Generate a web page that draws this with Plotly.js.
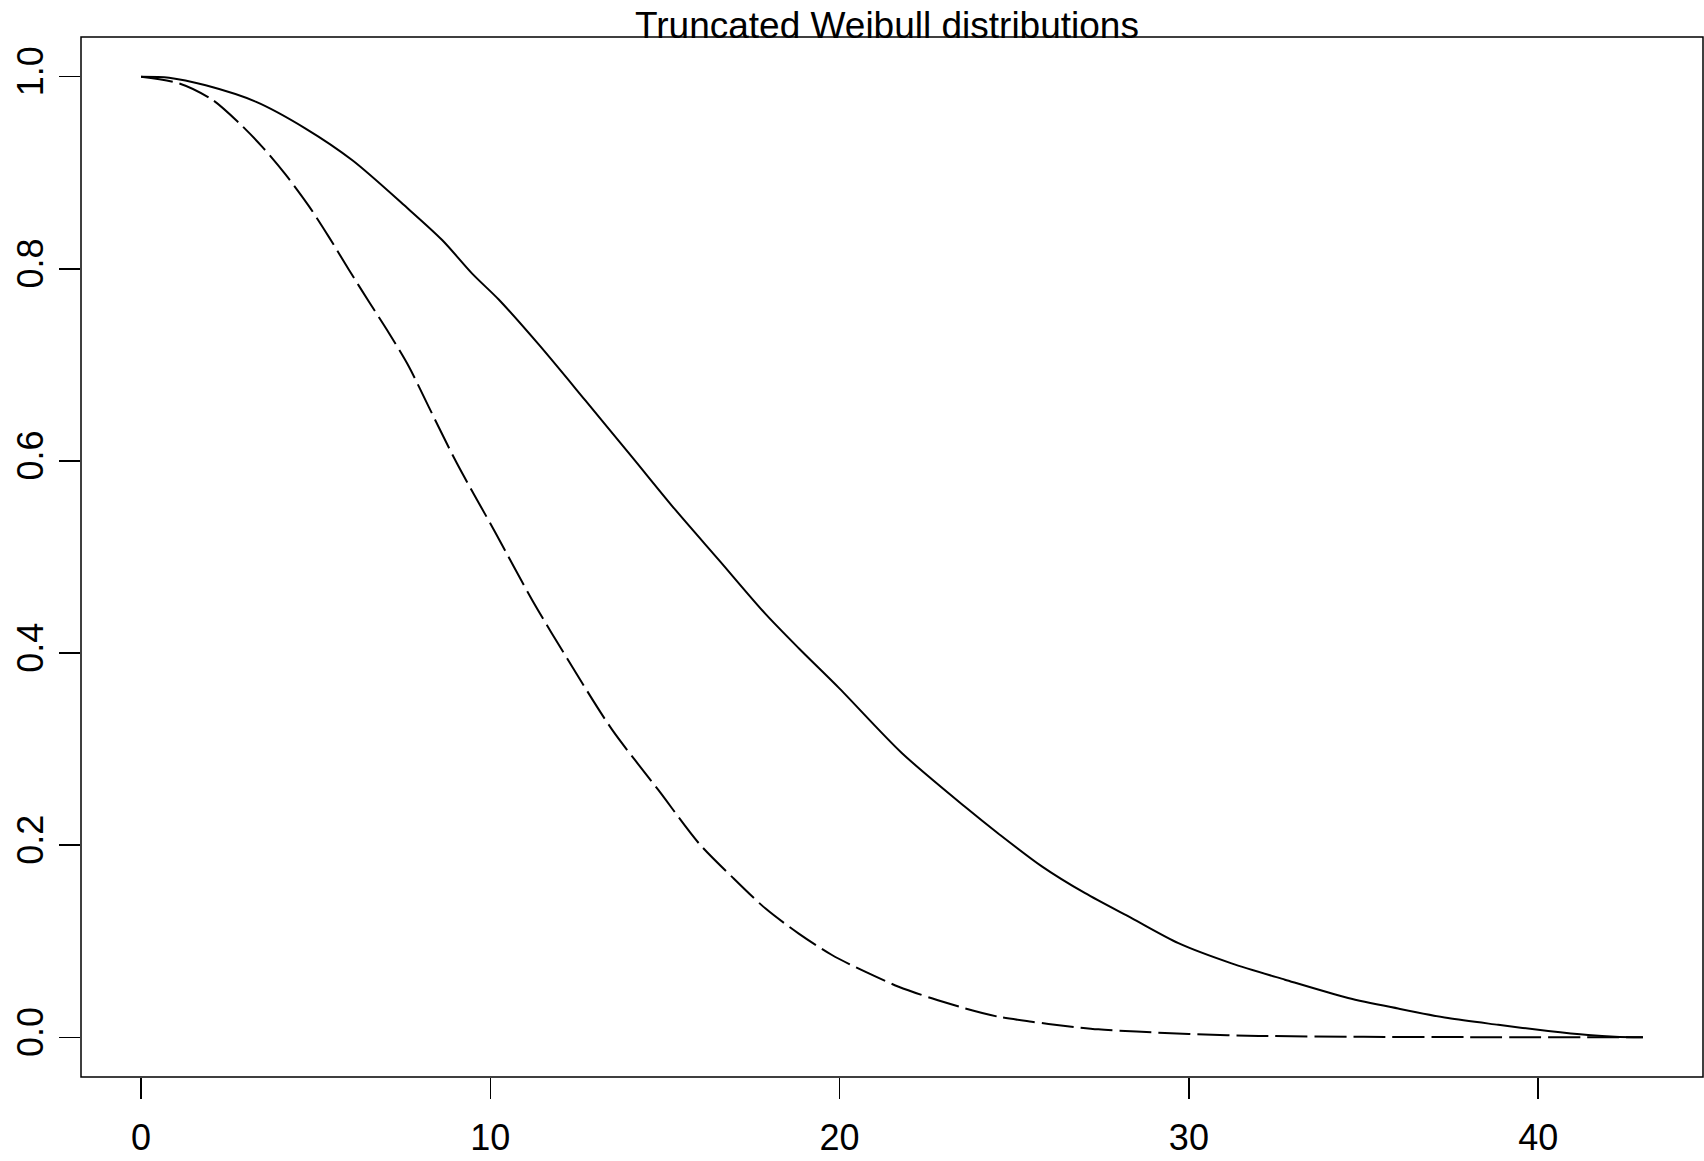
<!DOCTYPE html>
<html>
<head>
<meta charset="utf-8">
<script src="https://cdn.plot.ly/plotly-3.0.1.min.js"></script>
<style>
  html, body { margin: 0; padding: 0; background: #ffffff; }
  #chart { width: 1704px; height: 1161px; }
</style>
</head>
<body>
<div id="chart"></div>
<script>
// Solid curve
var solidX = [0, 0.8, 1.85, 3.28, 4.71, 6.05, 7.57, 8.62, 9.48, 10.24, 11.39, 12.72, 14.06, 15.30, 16.54, 17.87, 18.83, 20.0, 21.78, 23.59, 24.55, 25.79, 27.03, 28.36, 29.70, 31.22, 32.75, 34.56, 35.99, 37.42, 38.86, 40.29, 41.43, 42.2, 43.0];
var solidY = [1.0, 0.999, 0.991, 0.974, 0.946, 0.913, 0.865, 0.830, 0.795, 0.768, 0.721, 0.663, 0.604, 0.549, 0.497, 0.441, 0.405, 0.363, 0.296, 0.240, 0.212, 0.178, 0.150, 0.124, 0.098, 0.077, 0.060, 0.041, 0.030, 0.020, 0.013, 0.0066, 0.0024, 0.0006, 0.0];

// Dashed curve
var dashX = [0, 1.09, 2.04, 2.80, 3.47, 4.14, 4.81, 5.38, 5.95, 6.52, 7.10, 7.67, 8.24, 9.05, 10.15, 11.2, 12.34, 13.49, 14.82, 15.97, 16.92, 17.88, 18.83, 19.78, 20.73, 21.69, 22.64, 23.59, 24.55, 25.50, 26.46, 27.41, 28.5, 30, 32, 35, 38, 43];
var dashY = [1.0, 0.993, 0.976, 0.952, 0.927, 0.898, 0.865, 0.833, 0.799, 0.766, 0.733, 0.698, 0.656, 0.597, 0.525, 0.455, 0.386, 0.320, 0.257, 0.202, 0.167, 0.134, 0.108, 0.0857, 0.0683, 0.0527, 0.0406, 0.0302, 0.0214, 0.0162, 0.0118, 0.0083, 0.006, 0.0035, 0.0015, 0.0005, 0.0002, 0.0];

var xTickVals = [0, 10, 20, 30, 40];
var xTickText = ["0", "10", "20", "30", "40"];
var yTickVals = [0, 0.2, 0.4, 0.6, 0.8, 1.0];
var yTickText = ["0.0", "0.2", "0.4", "0.6", "0.8", "1.0"];
var chartTitle = "Truncated Weibull distributions";

var FONT = "Liberation Sans, Arial, Helvetica, sans-serif";

var traces = [
  {
    x: solidX, y: solidY, type: "scatter", mode: "lines",
    line: { color: "#000000", width: 2, shape: "spline", smoothing: 0.8 },
    hoverinfo: "skip", showlegend: false
  },
  {
    x: dashX, y: dashY, type: "scatter", mode: "lines",
    line: { color: "#000000", width: 2, dash: "32px,7px", shape: "spline", smoothing: 0.8 },
    hoverinfo: "skip", showlegend: false
  }
];

var layout = {
  width: 1704, height: 1161,
  paper_bgcolor: "#ffffff", plot_bgcolor: "#ffffff",
  margin: { l: 81, r: 1, t: 37, b: 84, pad: 0 },
  font: { family: FONT, color: "#000000", size: 36 },
  title: {
    text: chartTitle,
    font: { family: FONT, size: 37, color: "#000000" },
    xref: "container", yref: "container",
    x: 887 / 1704, xanchor: "center",
    y: 1 - 38 / 1161, yanchor: "bottom",
    pad: { t: 0, b: 0, l: 0, r: 0 }
  },
  xaxis: {
    range: [-1.72, 44.72],
    tickmode: "array", tickvals: xTickVals, ticktext: xTickText,
    ticks: "outside", ticklen: 21, tickwidth: 1.5, tickcolor: "#000000",
    showgrid: false, zeroline: false, showline: false,
    tickfont: { family: FONT, size: 36, color: "#000000" },
    ticklabelstandoff: 8,
    automargin: false, fixedrange: true
  },
  yaxis: {
    range: [-0.0413, 1.0413],
    tickmode: "array", tickvals: yTickVals, ticktext: yTickText,
    ticks: "outside", ticklen: 21, tickwidth: 1.5, tickcolor: "#000000",
    showgrid: false, zeroline: false, showline: false,
    tickangle: -90,
    tickfont: { family: FONT, size: 36, color: "#000000" },
    ticklabelstandoff: 2,
    automargin: false, fixedrange: true
  },
  shapes: [
    {
      type: "rect", xref: "paper", yref: "paper",
      x0: 0, x1: 1, y0: 0, y1: 1,
      line: { color: "#000000", width: 1.5 },
      fillcolor: "rgba(0,0,0,0)", layer: "above"
    }
  ]
};

Plotly.newPlot("chart", traces, layout, { displayModeBar: false, staticPlot: true });
</script>
</body>
</html>
